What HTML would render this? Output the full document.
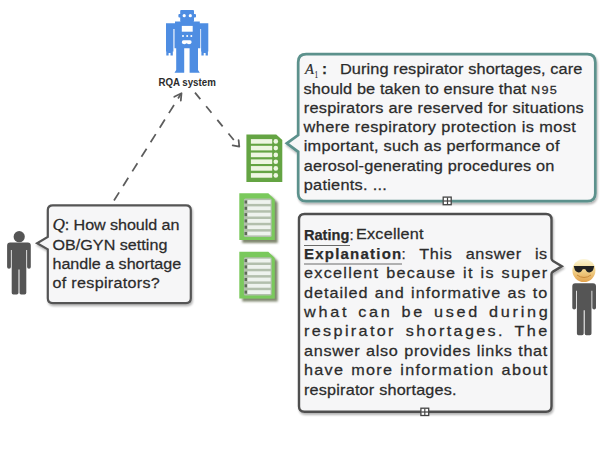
<!DOCTYPE html>
<html><head><meta charset="utf-8">
<style>
html,body{margin:0;padding:0;background:#fff;}
body{width:600px;height:450px;overflow:hidden;position:relative;}
svg{position:absolute;left:0;top:0;}
text{font-family:"Liberation Sans",sans-serif;fill:#2b2b2b;stroke:#2b2b2b;stroke-width:0.25px;}
</style></head><body>
<svg width="600" height="450" viewBox="0 0 600 450">
<defs>
<filter id="sh" x="-10%" y="-10%" width="130%" height="130%">
<feGaussianBlur in="SourceAlpha" stdDeviation="1.3"/>
<feOffset dx="1" dy="1.8" result="b"/>
<feComponentTransfer><feFuncA type="linear" slope="0.3"/></feComponentTransfer>
<feMerge><feMergeNode/><feMergeNode in="SourceGraphic"/></feMerge>
</filter>
<filter id="sh2" x="-20%" y="-20%" width="150%" height="150%">
<feGaussianBlur in="SourceAlpha" stdDeviation="0.9"/>
<feOffset dx="3" dy="3" result="b"/>
<feFlood flood-color="#56603f" flood-opacity="0.75"/>
<feComposite in2="b" operator="in"/>
<feMerge><feMergeNode/><feMergeNode in="SourceGraphic"/></feMerge>
</filter>
<linearGradient id="face" x1="0" y1="0" x2="0" y2="1">
<stop offset="0" stop-color="#fbf5da"/><stop offset="0.4" stop-color="#f4dc98"/><stop offset="1" stop-color="#e3a24c"/>
</linearGradient>
</defs>

<g fill="#4e8de2">
<rect x="180.2" y="9.9" width="13.8" height="12" rx="1"/>
<rect x="178.4" y="13.9" width="17.6" height="3.6" rx="1"/>
<path d="M175,21.6 H199.8 V23.2 H208.3 V51.5 H201.1 V29 H200.3 V48.3 H198 V70.1 L199.8,72.8 H189.6 V48.3 H184.2 V72.8 H174.5 L176.2,70.1 V48.3 H174.5 V29 H173.4 V51.5 H166 V23.2 H175 Z"/>
<path d="M166.3,51 H172.8 V55.5 H170.5 V53 H168.6 V55.5 H166.3 Z"/>
<path d="M201.4,51 H207.9 V55.5 H205.6 V53 H203.7 V55.5 H201.4 Z"/>
</g>
<g fill="#fff">
<circle cx="184.2" cy="15.7" r="1.6"/><circle cx="190.3" cy="15.7" r="1.6"/>
<rect x="181.8" y="25.9" width="10.9" height="5.8"/>
<circle cx="183" cy="36.1" r="1"/><circle cx="187.2" cy="36.1" r="1"/><circle cx="191.3" cy="36.1" r="1"/>
<path d="M183.5,40.3 H190 Q191.8,40.3 191.6,42.5 Q191.3,44.3 189,44.3 Q187,43.6 186.7,43.3 Q186.2,43.6 184.4,44.3 Q182,44.3 181.8,42.5 Q181.8,40.3 183.5,40.3 Z"/>
</g>
<text x="158.4" y="85.6" font-size="10.4" font-weight="bold" fill="#333" style="stroke:none" textLength="57.4" lengthAdjust="spacingAndGlyphs">RQA system</text>
<g stroke="#5c5c5c" stroke-width="1.75" fill="none">
<line x1="114" y1="200.5" x2="181.3" y2="93.4" stroke-dasharray="9.6 7.6"/>
<line x1="195" y1="92.6" x2="239" y2="146.3" stroke-dasharray="8.4 9.2"/>
</g>
<g stroke="#5c5c5c" stroke-width="1.75" fill="none" stroke-linecap="round" stroke-linejoin="round">
<polyline points="174.3,96.8 181.5,93.2 180.8,100.6"/>
<polyline points="232.7,145.4 239.3,146.7 238.6,140.1"/>
</g>
<circle cx="19.2" cy="236.7" r="5.6" fill="#555"/>
<g transform="translate(7.1,242.5)" fill="#555"><path d="M3,0 H20.7 Q23.7,0 23.7,3 V24.5 Q23.7,26.2 21.9,26.2 Q20,26.2 20,24.5 V7.5 H19.2 V50.3 Q19.2,52 17.5,52 H14 Q12.4,52 12.4,50.3 V27 H11.4 V50.3 Q11.4,52 9.7,52 H6.2 Q4.6,52 4.6,50.3 V7.5 H3.8 V24.5 Q3.8,26.2 1.9,26.2 Q0,26.2 0,24.5 V3 Q0,0 3,0 Z"/></g>
<g filter="url(#sh)">
<path d="M52.8,205.3 H186 Q190.8,205.3 190.8,210.1 V298.3 Q190.8,303.1 186,303.1 H52.8 Q47.8,303.1 47.8,298.3 V249.3 L37.1,243.3 L47.8,236.9 V210.1 Q47.8,205.3 52.8,205.3 Z" fill="#f6f6f7" stroke="#555" stroke-width="2.2"/>
</g>
<g filter="url(#sh)">
<path d="M306.2,54.2 H587.3 Q595.3,54.2 595.3,62.2 V193.2 Q595.3,201.2 587.3,201.2 H306.2 Q298.2,201.2 298.2,193.2 V151.8 L286.8,143.3 L298.2,135.1 V62.2 Q298.2,54.2 306.2,54.2 Z" fill="#f7f7f8" stroke="#5b918c" stroke-width="2.7"/>
</g>
<g filter="url(#sh)">
<path d="M304.5,214 H546 Q551.5,214 551.5,219.5 V258.6 Q551.5,260 553,261 L561.8,266.3 L553,271.6 Q551.5,272.5 551.5,274 V406.3 Q551.5,411.8 546,411.8 H304.5 Q299,411.8 299,406.3 V219.5 Q299,214 304.5,214 Z" fill="#f6f6f7" stroke="#4f4f4f" stroke-width="2.4"/>
</g>
<g fill="#fff" stroke="#444" stroke-width="1.3">
<rect x="443.2" y="197.1" width="8" height="7.6"/>
<rect x="420.9" y="408.2" width="7.8" height="7.3"/>
</g>
<g stroke="#444" stroke-width="1.2">
<line x1="447.5" y1="197.5" x2="447.5" y2="204.5"/><line x1="443.5" y1="201" x2="451" y2="201"/>
<line x1="424.8" y1="408.5" x2="424.8" y2="415.2"/><line x1="421.2" y1="412" x2="428.4" y2="412"/>
</g>
<path d="M246.4,134.4 H276.2 L282.3,140.1 V182 H246.4 Z" fill="#64a443"/>
<g fill="#eef6e2">
<rect x="250.9" y="139.1" width="21.3" height="4.6"/><circle cx="275.8" cy="141.4" r="2.3"/>
<rect x="250.9" y="145.8" width="21.3" height="4.6"/><circle cx="275.8" cy="148.1" r="2.3"/>
<rect x="250.9" y="152.6" width="21.3" height="4.6"/><circle cx="275.8" cy="154.9" r="2.3"/>
<rect x="250.9" y="159.4" width="21.3" height="4.6"/><circle cx="275.8" cy="161.7" r="2.3"/>
<rect x="250.9" y="166.1" width="21.3" height="4.6"/><circle cx="275.8" cy="168.4" r="2.3"/>
<rect x="250.9" y="173.1" width="21.3" height="4.6"/><circle cx="275.8" cy="175.4" r="2.3"/>
</g>
<g filter="url(#sh2)"><path d="M239.3,193.2 H268.3 L274.7,199.5 V240 H239.3 Z" fill="#7ac95b"/></g>
<rect x="243.9" y="198.6" width="27.8" height="38.4" rx="1.5" fill="#b2bfac"/>
<rect x="247.6" y="200.1" width="23" height="3.8" fill="#eef3ee"/>
<rect x="244.6" y="200.5" width="2.4" height="3" fill="#5e6a58"/>
<rect x="247.6" y="206.4" width="23" height="3.8" fill="#eef3ee"/>
<rect x="244.6" y="206.8" width="2.4" height="3" fill="#5e6a58"/>
<rect x="247.6" y="212.7" width="23" height="3.8" fill="#eef3ee"/>
<rect x="244.6" y="213.1" width="2.4" height="3" fill="#5e6a58"/>
<rect x="247.6" y="219.0" width="23" height="3.8" fill="#eef3ee"/>
<rect x="244.6" y="219.4" width="2.4" height="3" fill="#5e6a58"/>
<rect x="247.6" y="225.3" width="23" height="3.8" fill="#eef3ee"/>
<rect x="244.6" y="225.7" width="2.4" height="3" fill="#5e6a58"/>
<rect x="247.6" y="231.6" width="23" height="3.8" fill="#eef3ee"/>
<rect x="244.6" y="232.0" width="2.4" height="3" fill="#5e6a58"/>
<g filter="url(#sh2)"><path d="M239.3,251.79999999999998 H268.3 L274.7,258.1 V298.6 H239.3 Z" fill="#7ac95b"/></g>
<rect x="243.9" y="257.2" width="27.8" height="38.4" rx="1.5" fill="#b2bfac"/>
<rect x="247.6" y="258.7" width="23" height="3.8" fill="#eef3ee"/>
<rect x="244.6" y="259.1" width="2.4" height="3" fill="#5e6a58"/>
<rect x="247.6" y="265.0" width="23" height="3.8" fill="#eef3ee"/>
<rect x="244.6" y="265.4" width="2.4" height="3" fill="#5e6a58"/>
<rect x="247.6" y="271.3" width="23" height="3.8" fill="#eef3ee"/>
<rect x="244.6" y="271.7" width="2.4" height="3" fill="#5e6a58"/>
<rect x="247.6" y="277.6" width="23" height="3.8" fill="#eef3ee"/>
<rect x="244.6" y="278.0" width="2.4" height="3" fill="#5e6a58"/>
<rect x="247.6" y="283.9" width="23" height="3.8" fill="#eef3ee"/>
<rect x="244.6" y="284.3" width="2.4" height="3" fill="#5e6a58"/>
<rect x="247.6" y="290.2" width="23" height="3.8" fill="#eef3ee"/>
<rect x="244.6" y="290.6" width="2.4" height="3" fill="#5e6a58"/>
<g transform="translate(572.3,283.3)" fill="#555"><path d="M3,0 H20.7 Q23.7,0 23.7,3 V24.5 Q23.7,26.2 21.9,26.2 Q20,26.2 20,24.5 V7.5 H19.2 V50.3 Q19.2,52 17.5,52 H14 Q12.4,52 12.4,50.3 V27 H11.4 V50.3 Q11.4,52 9.7,52 H6.2 Q4.6,52 4.6,50.3 V7.5 H3.8 V24.5 Q3.8,26.2 1.9,26.2 Q0,26.2 0,24.5 V3 Q0,0 3,0 Z"/></g>
<circle cx="583.9" cy="270.5" r="11.5" fill="url(#face)"/>
<path d="M573.8,266.1 H594.2 L593.6,268.6 Q592.6,272.4 589.3,272.4 Q586.6,272.4 585.6,269.4 L584,268.9 L582.4,269.4 Q581.4,272.4 578.7,272.4 Q575.4,272.4 574.4,268.6 Z" fill="#222"/>
<path d="M577,275 Q584,280 591,275" stroke="#c98a3a" stroke-width="1" fill="none"/>
<!-- Q text -->
<g font-size="15.5" transform="translate(52.5,0) scale(1.04,1)">
<text x="0.00" y="230.5" textLength="122.02" lengthAdjust="spacing"><tspan font-family="Liberation Serif" font-style="italic" font-size="16.5">Q</tspan>: How should an</text>
<text x="0.00" y="249.7" textLength="110.48" lengthAdjust="spacing">OB/GYN setting</text>
<text x="0.00" y="268.9" textLength="123.75" lengthAdjust="spacing">handle a shortage</text>
<text x="0.00" y="288.1" textLength="103.17" lengthAdjust="spacing">of respirators?</text>
</g>
<!-- A1 text -->
<g font-size="15" transform="translate(339.9,0) scale(1.09,1)">
<text x="0.00" y="74.3" textLength="222.48" lengthAdjust="spacing">During respirator shortages, care</text>
<text x="-33.39" y="93.6" textLength="233.30" lengthAdjust="spacing">should be taken to ensure that <tspan font-size="11.6" style="letter-spacing:1px">N95</tspan></text>
<text x="-33.21" y="112.9" textLength="256.97" lengthAdjust="spacing">respirators are reserved for situations</text>
<text x="-33.39" y="132.2" textLength="249.82" lengthAdjust="spacing">where respiratory protection is most</text>
<text x="-33.21" y="151.5" textLength="234.68" lengthAdjust="spacing">important, such as performance of</text>
<text x="-33.21" y="170.8" textLength="230.00" lengthAdjust="spacing">aerosol-generating procedures on</text>
<text x="-33.21" y="190.1" textLength="76.24" lengthAdjust="spacing">patients. ...</text>
</g>
<text x="305" y="74.3" font-family="Liberation Serif" font-style="italic" font-size="14.6" style="font-family:Liberation Serif;stroke-width:0.2px">A</text>
<text x="314.6" y="77.5" font-size="9.5" style="font-family:Liberation Serif;stroke-width:0.1px" textLength="3.6" lengthAdjust="spacingAndGlyphs">1</text>
<text x="321.9" y="74.3" font-size="15" font-weight="bold">:</text>
<text x="304" y="239.5" font-size="14.8" font-weight="bold" textLength="45.3" lengthAdjust="spacingAndGlyphs">Rating</text>
<text x="349.6" y="239.5" font-size="15">:</text>
<g transform="translate(356,0) scale(1.08,1)"><text x="0" y="239.5" font-size="15" textLength="62.5" lengthAdjust="spacing">Excellent</text></g>
<text x="304" y="258.9" font-size="15" font-weight="bold" textLength="97.2" lengthAdjust="spacing">Explanation</text>
<text x="401.6" y="258.9" font-size="15">:</text>
<g transform="translate(419.3,0) scale(1.08,1)"><text x="0" y="258.9" font-size="15" style="word-spacing:7.4px;letter-spacing:0.6px">This answer is</text></g>
<g stroke="#6a6a6a" stroke-width="1"><line x1="304" y1="245.5" x2="350" y2="245.5"/><line x1="304" y1="264" x2="402" y2="264"/></g>
<!-- Rating text -->
<g font-size="15" transform="translate(304,0) scale(1.08,1)">
<text x="0.00" y="278.3" style="word-spacing:0.92px;letter-spacing:1.18px">excellent because it is super</text>
<text x="0.00" y="297.7" style="word-spacing:0.73px;letter-spacing:0.91px">detailed and informative as to</text>
<text x="0.00" y="317.1" style="word-spacing:1.56px;letter-spacing:2.55px">what can be used during</text>
<text x="0.00" y="336.5" style="word-spacing:2.90px;letter-spacing:2.17px">respirator shortages. The</text>
<text x="0.00" y="355.9" style="word-spacing:0.53px;letter-spacing:0.63px">answer also provides links that</text>
<text x="0.00" y="375.3" style="word-spacing:1.14px;letter-spacing:1.19px">have more information about</text>
<text x="0.00" y="394.7" textLength="141.30" lengthAdjust="spacing">respirator shortages.</text>
</g>
</svg>
</body></html>
